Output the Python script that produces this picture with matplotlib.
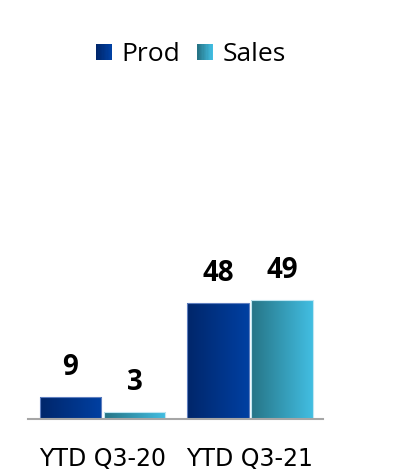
import numpy as np
import matplotlib
matplotlib.use("Agg")
import matplotlib.pyplot as plt
from matplotlib.colors import LinearSegmentedColormap, to_rgb
from matplotlib.patches import Rectangle
from matplotlib.legend_handler import HandlerBase
from matplotlib.font_manager import FontProperties

categories = ["YTD Q3-20", "YTD Q3-21"]
series_names = ["Prod", "Sales"]
prod = [9, 48]
sales = [3, 49]

gradients = {
    "Prod": ("#00266A", "#0040A2"),
    "Sales": ("#267486", "#42BEE2"),
}
edges = {"Prod": "#5F7FBF", "Sales": "#BFE6F2"}

plt.rcParams["font.family"] = ["Open Sans", "DejaVu Sans"]
value_font = FontProperties(family=["Open Sans", "DejaVu Sans"], weight="bold", size=20)
legend_font = FontProperties(family=["Open Sans", "DejaVu Sans"], size=19)
tick_font = FontProperties(family=["DejaVu Sans"], size=17)

fig = plt.figure(figsize=(3.98, 4.72), dpi=100)
W, H = 398, 472
ax = fig.add_axes([28 / W, 1 - 419 / H, (323 - 28) / W, (419 - 130) / H])

x = np.arange(len(categories))
width = 0.42
offset = 0.217

grad = np.linspace(0, 1, 256).reshape(1, -1)


def gradient_bars(xpos, values, name):
    c0, c1 = gradients[name]
    cmap = LinearSegmentedColormap.from_list(name, [c0, c1])
    bars = ax.bar(xpos, values, width, color="none",
                  edgecolor=edges[name], linewidth=0.8, zorder=3)
    for b, v in zip(bars, values):
        x0, y0 = b.get_x(), b.get_y()
        w, h = b.get_width(), b.get_height()
        im = ax.imshow(grad, cmap=cmap, aspect="auto",
                       extent=[x0, x0 + w, y0, y0 + h], zorder=2,
                       interpolation="bilinear")
        im.set_clip_path(b)
        ax.annotate(f"{v}", (x0 + w / 2, y0 + h), xytext=(0, 22),
                    textcoords="offset pixels",
                    ha="center", va="baseline", fontproperties=value_font,
                    color="black")
    return bars


gradient_bars(x - offset, prod, "Prod")
gradient_bars(x + offset, sales, "Sales")

ax.set_xlim(-0.505, 1.495)
ax.set_ylim(0, 289 / 2.42)
ax.set_yticks([])
ax.set_xticks(x)
ax.set_xticklabels(categories)
for lbl in ax.get_xticklabels():
    lbl.set_fontproperties(tick_font)
ax.tick_params(axis="x", length=0, pad=20.5)
for s in ["top", "right", "left"]:
    ax.spines[s].set_visible(False)
ax.spines["bottom"].set_color("#A6A6A6")
ax.spines["bottom"].set_linewidth(1.5)
ax.spines["bottom"].set_zorder(4)


class GradientHandler(HandlerBase):
    def create_artists(self, legend, orig_handle, xdescent, ydescent,
                       width, height, fontsize, trans):
        c0, c1 = (np.array(to_rgb(c)) for c in gradients[orig_handle.get_label()])
        side = min(width, height)
        n = 12
        arts = []
        for i in range(n):
            t = i / (n - 1)
            col = c0 * (1 - t) + c1 * t
            r = Rectangle((-xdescent + (width - side) / 2 + side * i / n,
                           -ydescent + (height - side) / 2),
                          side / n + 0.3, side, facecolor=col,
                          edgecolor="none", transform=trans)
            arts.append(r)
        return arts


handles = [Rectangle((0, 0), 1, 1, label=n) for n in series_names]
fig.legend(handles, series_names, loc="center", bbox_to_anchor=(191 / W, 1 - 54.5 / H),
           ncol=2, frameon=False, prop=legend_font,
           handler_map={Rectangle: GradientHandler()},
           handlelength=0.6, handleheight=0.6, handletextpad=0.38,
           columnspacing=0.64, borderpad=0, borderaxespad=0)

fig.savefig("out.png", dpi=100)
